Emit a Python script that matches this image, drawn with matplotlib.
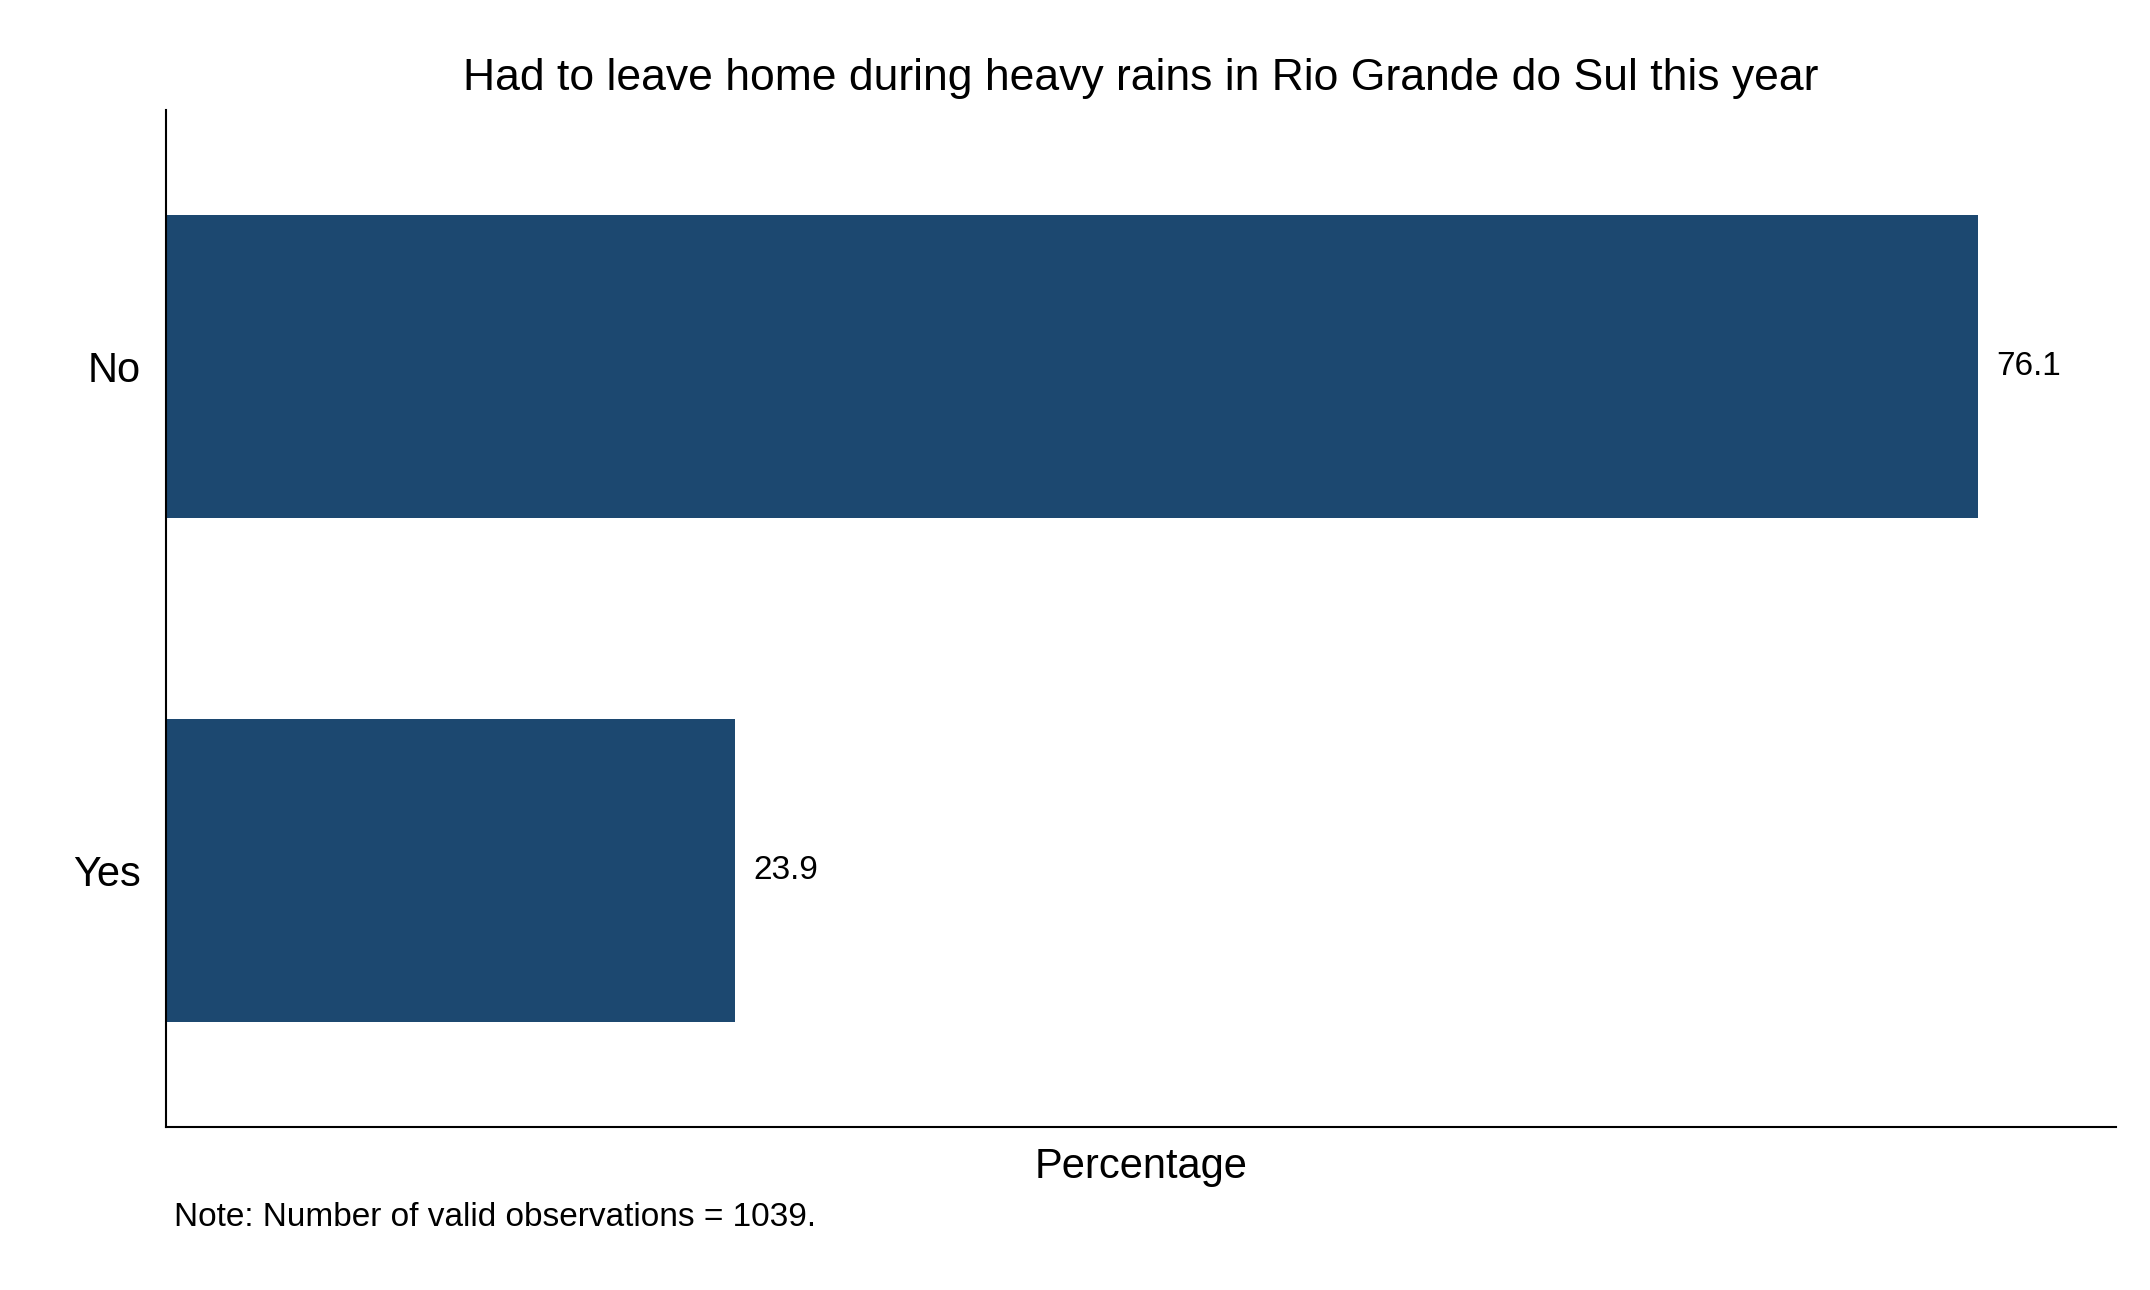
import matplotlib.pyplot as plt

plt.rcParams['font.family'] = ['Liberation Sans', 'DejaVu Sans']

categories = ['No', 'Yes']
values = [76.1, 23.9]
bar_color = '#1c4870'

fig = plt.figure(figsize=(21.5, 12.9), dpi=100)
ax = fig.add_axes([0.077, 0.126, 0.907, 0.789])

ypos = [1, 0]
ax.barh(ypos, values, height=0.6, color=bar_color)
for y, v in zip(ypos, values):
    ax.text(v + 0.8, y, f"{v:.1f}", va='center', ha='left', fontsize=24)

ax.set_xlim(0, 81.9)
ax.set_ylim(-0.51, 1.51)
ax.set_yticks(ypos)
ax.set_yticklabels(categories, fontsize=30)
ax.tick_params(axis='y', length=0, pad=18)
ax.set_xticks([])
ax.spines['top'].set_visible(False)
ax.spines['right'].set_visible(False)
ax.spines['left'].set_linewidth(1.5)
ax.spines['bottom'].set_linewidth(1.5)
ax.set_xlabel("Percentage", fontsize=30, labelpad=14)
ax.set_title("Had to leave home during heavy rains in Rio Grande do Sul this year", fontsize=32, pad=14)
fig.text(0.081, 0.05, "Note: Number of valid observations = 1039.", fontsize=24)

fig.savefig('out.png')
